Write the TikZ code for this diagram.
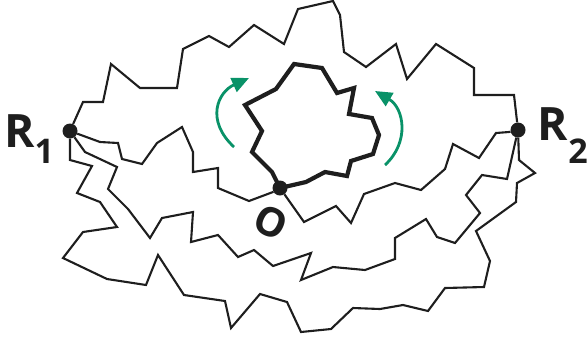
\documentclass[tikz,border=0pt]{standalone}
\usepackage{fontspec}
\setmainfont{Open Sans}
\usepackage{xcolor}
\usepackage{tikz}
\usetikzlibrary{arrows.meta,positioning}

\definecolor{ink}{HTML}{1E1E1E}
\definecolor{turn}{HTML}{099268}
\newcommand{\lowsub}[2]{\raisebox{#1}{\fontsize{34}{34}\selectfont #2}}

\begin{document}
\begin{tikzpicture}[
  x=1pt,y=-1pt,
  dot/.style={circle,fill=ink,inner sep=0pt,minimum size=15pt},
  walk/.style={draw=ink,line width=2.1pt,line join=miter},
  ring/.style={draw=ink,line width=4.2pt,line join=miter},
  lbl/.style={inner sep=0pt,text=ink,font=\bfseries\fontsize{46}{46}\selectfont},
  arr/.style={-{Triangle[length=17pt,width=15pt]},draw=turn,line width=2.8pt}
]
\useasboundingbox (0,0) rectangle (588,341);
\node[dot] (r1) at (70,131) {};
\node[dot] (r2) at (518,130) {};
\node[dot] (o) at (280,188) {};

\draw[walk] (r1) -- (83,102) -- (103,102) -- (111,64) -- (140,88) -- (177,88)
  -- (183,49) -- (209,36) -- (229,47) -- (254,25) -- (284,44) -- (298,9)
  -- (333,1) -- (340,15) -- (344,52) -- (366,67) -- (396,44) -- (407,79)
  -- (436,44) -- (474,68) -- (474,95) -- (514,95) -- (r2);
\draw[walk] (r1) -- (100,142) -- (118,143) -- (122,159) -- (142,164) -- (157,143)
  -- (182,127) -- (193,152) -- (193,172) -- (218,168) -- (218,188) -- (249,201)
  -- (273,192) -- (o);
\draw[walk] (o) -- (304,222) -- (336,206) -- (351,223) -- (364,194) -- (395,183)
  -- (421,190) -- (445,169) -- (453,144) -- (479,158) -- (496,133) -- (509,132)
  -- (r2);
\draw[walk] (r1) -- (85,152) -- (117,167) -- (108,189) -- (128,209) -- (150,238)
  -- (162,218) -- (193,212) -- (191,242) -- (218,235) -- (238,257) -- (254,250)
  -- (273,266) -- (311,253) -- (301,280) -- (333,267) -- (365,270) -- (395,259)
  -- (395,238) -- (426,219) -- (437,237) -- (455,243) -- (480,213) -- (466,195)
  -- (482,175) -- (507,179) -- (r2);
\draw[walk] (r1) -- (70,160) -- (92,166) -- (77,193) -- (100,202) -- (117,227)
  -- (83,232) -- (63,258) -- (107,279) -- (146,285) -- (158,255) -- (184,295)
  -- (225,301) -- (231,328) -- (260,294) -- (287,302) -- (301,332) -- (331,329)
  -- (353,308) -- (380,309) -- (403,305) -- (428,311) -- (445,288) -- (484,287)
  -- (490,261) -- (476,231) -- (516,202) -- (517,183) -- (535,173) -- (519,160)
  -- (r2);

\draw[ring] (o.center) -- (272,172) -- (252,152) -- (262,131) -- (245,105) -- (276,89)
  -- (294,64) -- (322,68) -- (337,93) -- (354,88) -- (349,114) -- (372,118)
  -- (379,135) -- (373,154) -- (351,161) -- (347,176) -- (325,172) -- (306,182)
  -- cycle;

\draw[arr] (234,147) .. controls (205,120) and (218,92) .. (249,78);
\draw[arr] (385,165) .. controls (410,142) and (404,108) .. (375,91);

\node[lbl,left=8pt of r1,anchor=base east,yshift=-16pt] (r1lbl) {R\lowsub{-16pt}{1}};
\node[lbl,right=12pt of r2,anchor=base west,yshift=-10pt] (r2lbl) {R\lowsub{-23pt}{2}};
\node[lbl,font=\bfseries\fontsize{40}{40}\selectfont,rotate=-25] (olbl) at (271,222) {O};
\end{tikzpicture}
\end{document}
